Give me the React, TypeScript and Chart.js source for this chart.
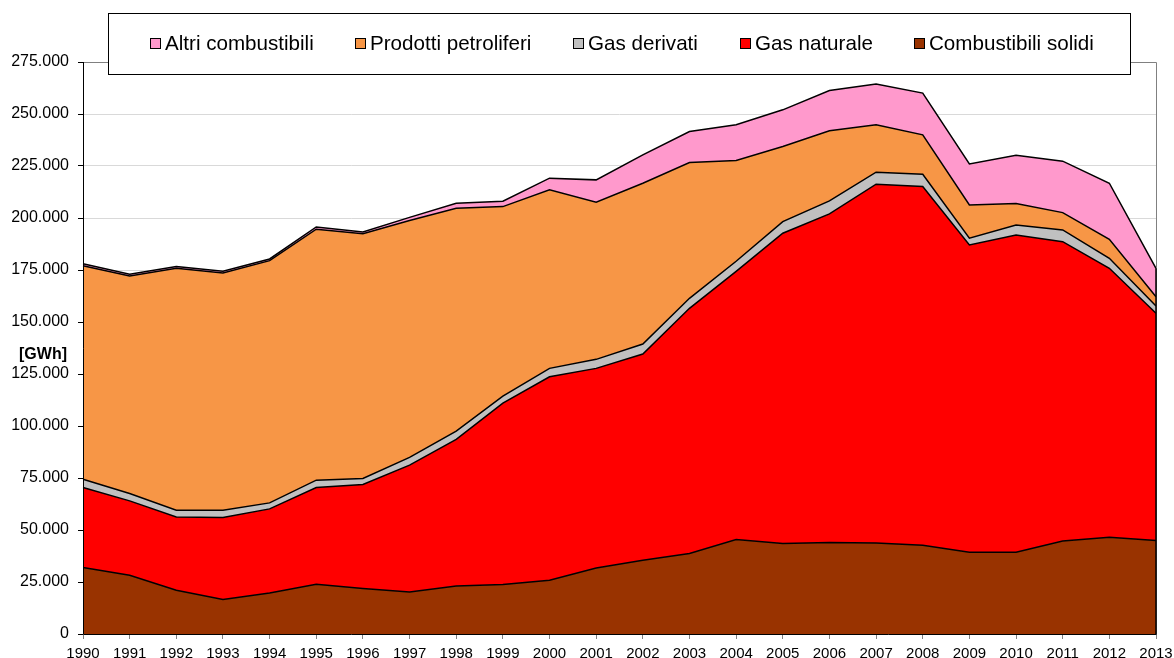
import React, { useEffect, useRef } from "react";
import { Chart, registerables } from "chart.js";
Chart.register(...registerables);

const years = ["1990","1991","1992","1993","1994","1995","1996","1997","1998","1999","2000","2001","2002","2003","2004","2005","2006","2007","2008","2009","2010","2011","2012","2013"];

const combustibiliSolidi = [31950, 28250, 21030, 16550, 19730, 23900, 21840, 20210, 23100, 23770, 25840, 31760, 35460, 38690, 45420, 43500, 43980, 43790, 42680, 39310, 39310, 44750, 46530, 44940];
const gasNaturale = [38500, 35750, 35270, 39460, 40420, 46550, 50050, 60970, 70440, 87230, 97830, 95950, 99130, 117890, 128960, 149170, 157980, 172460, 172420, 147730, 152540, 143880, 129300, 109240];
const gasDerivati = [3990, 3560, 3230, 3520, 2890, 3510, 2890, 3700, 3960, 3380, 4040, 4330, 4810, 4810, 4820, 5580, 6250, 5770, 5960, 3220, 4820, 5630, 4810, 3510];
const prodottiPetroliferi = [102640, 104570, 116300, 114040, 116450, 120640, 117700, 113920, 107200, 91090, 85800, 75550, 77330, 65260, 48410, 36090, 33690, 22770, 18920, 16030, 10250, 8330, 9150, 4470];
const altriCombustibili = [920, 870, 870, 830, 810, 1100, 820, 1500, 2400, 2610, 5630, 10740, 13620, 14910, 17180, 17670, 19390, 19580, 20060, 19730, 23290, 24730, 26940, 13670];

const seriesNames = ["Combustibili solidi", "Gas naturale", "Gas derivati", "Prodotti petroliferi", "Altri combustibili"];
const seriesColors = ["#993300", "#FF0000", "#C0C0C0", "#F79646", "#FF99CC"];
const seriesData = [combustibiliSolidi, gasNaturale, gasDerivati, prodottiPetroliferi, altriCombustibili];

const yMax = 275000;
const yStep = 25000;
const unitLabel = "[GWh]";

const FONT = '"Liberation Sans", Arial, Helvetica, sans-serif';

function fmt(v: number): string {
  return String(Math.round(v)).replace(/\B(?=(\d{3})+(?!\d))/g, ".");
}

const overlayPlugin = {
  id: "overlay",
  afterDatasetsDraw(chart: any) {
    const { ctx, chartArea: a, scales } = chart;
    const last = years.length - 1;
    let total = 0;
    seriesData.forEach((s) => (total += s[last]));
    const x = Math.round(scales.x.getPixelForValue(last)) + 0.5;
    const yTop = scales.y.getPixelForValue(total);
    const y0 = scales.y.getPixelForValue(0);
    ctx.save();
    ctx.strokeStyle = "#808080";
    ctx.lineWidth = 1;
    ctx.beginPath();
    ctx.moveTo(a.left, Math.round(a.top) + 0.5);
    ctx.lineTo(Math.round(a.right) + 0.5, Math.round(a.top) + 0.5);
    ctx.lineTo(Math.round(a.right) + 0.5, a.bottom);
    ctx.stroke();
    ctx.strokeStyle = "#000";
    ctx.lineWidth = 1.5;
    ctx.beginPath();
    ctx.moveTo(x - 0.5, yTop);
    ctx.lineTo(x - 0.5, y0);
    ctx.stroke();
    ctx.lineWidth = 1;
    ctx.beginPath();
    ctx.moveTo(Math.round(a.left) + 0.5, a.top);
    ctx.lineTo(Math.round(a.left) + 0.5, Math.round(a.bottom) + 0.5);
    ctx.lineTo(Math.round(a.right) + 0.5, Math.round(a.bottom) + 0.5);
    ctx.stroke();
    ctx.restore();
  },
  afterDraw(chart: any) {
    const { ctx, chartArea: a } = chart;
    ctx.save();
    ctx.font = `bold 16px ${FONT}`;
    ctx.fillStyle = "#000";
    ctx.textAlign = "right";
    ctx.textBaseline = "middle";
    ctx.fillText(unitLabel, a.left - 16, a.top + 293);

    const bx = 108.5, by = 13.5, bw = 1022, bh = 61;
    ctx.fillStyle = "#fff";
    ctx.fillRect(bx, by, bw, bh);
    ctx.strokeStyle = "#000";
    ctx.lineWidth = 1;
    ctx.strokeRect(bx, by, bw, bh);

    ctx.font = `20.6px ${FONT}`;
    const items = seriesNames.map((n, i) => ({ name: n, color: seriesColors[i] })).reverse();
    const sq = 10, gapSq = 5, gapItem = 41.5;
    const widths = items.map((it) => ctx.measureText(it.name).width);
    let x = 150;
    ctx.textAlign = "left";
    ctx.textBaseline = "alphabetic";
    items.forEach((it, i) => {
      const xr = Math.round(x);
      ctx.fillStyle = it.color;
      ctx.fillRect(xr + 0.5, 38.5, sq, sq);
      ctx.strokeStyle = "#000";
      ctx.strokeRect(xr + 0.5, 38.5, sq, sq);
      ctx.fillStyle = "#000";
      ctx.fillText(it.name, xr + sq + gapSq, 50);
      x += sq + gapSq + widths[i] + gapItem;
    });
    ctx.restore();
  },
};

export default function App() {
  const ref = useRef<HTMLCanvasElement>(null);
  useEffect(() => {
    const datasets = seriesData.map((d, i) => ({
      label: seriesNames[i],
      data: d,
      backgroundColor: seriesColors[i],
      borderColor: "#000",
      borderWidth: 1.5,
      pointRadius: 0,
      pointHoverRadius: 0,
      tension: 0,
      fill: i === 0 ? "origin" : "-1",
    }));
    const chart = new Chart(ref.current as HTMLCanvasElement, {
      type: "line",
      data: { labels: years, datasets: datasets as any },
      plugins: [overlayPlugin as any],
      options: {
        animation: false,
        responsive: false,
        devicePixelRatio: 1,
        layout: { padding: { top: 62, right: 18, left: 0, bottom: 0 } },
        plugins: {
          legend: { display: false },
          tooltip: { enabled: false },
        },
        scales: {
          x: {
            type: "category",
            offset: false,
            grid: { display: true, drawOnChartArea: false, drawTicks: true, tickLength: 5, tickColor: "#808080" },
            border: { display: false },
            ticks: { color: "#000", font: { family: FONT, size: 15 }, maxRotation: 0, minRotation: 0, autoSkip: false, padding: 6 },
            afterFit(s: any) { s.height = 24; s.paddingLeft = 0; s.paddingRight = 0; },
          },
          y: {
            stacked: true,
            min: 0,
            max: yMax,
            grid: { color: "#d9d9d9", tickColor: "#000", tickLength: 5, lineWidth: 1 },
            border: { display: false },
            ticks: { stepSize: yStep, color: "#000", font: { family: FONT, size: 16 }, padding: 9, callback: (v: any) => fmt(Number(v)) },
            afterFit(s: any) { s.width = 83; },
          },
        },
      } as any,
    });
    return () => chart.destroy();
  }, []);
  return (
    <div style={{ position: "absolute", left: 0, top: 0, width: 1174, height: 658, background: "#fff" }}>
      <canvas ref={ref} width={1174} height={658} style={{ display: "block", width: 1174, height: 658 }} />
    </div>
  );
}
